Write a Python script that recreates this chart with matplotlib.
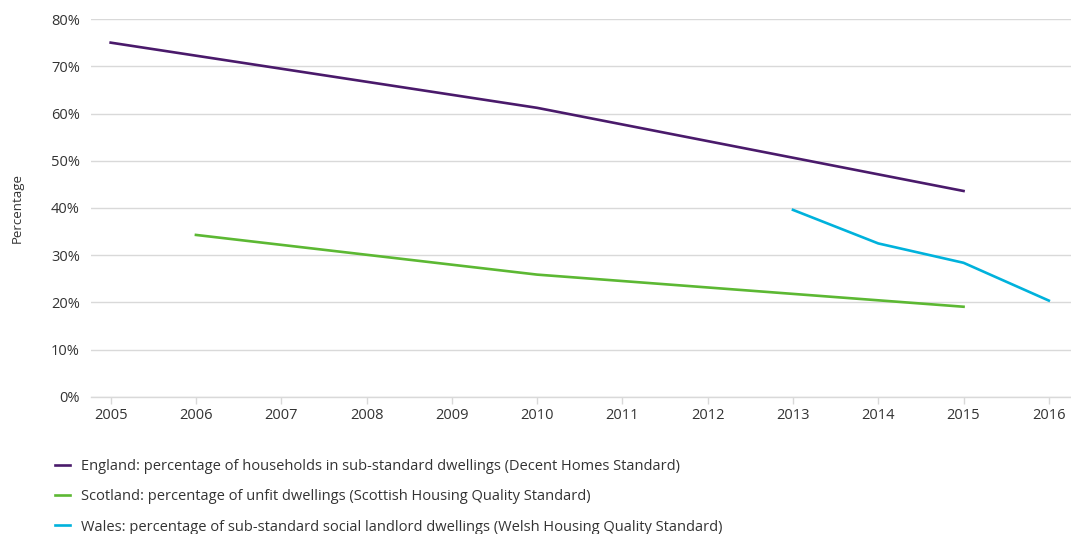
import matplotlib
matplotlib.use("Agg")
import matplotlib.pyplot as plt
from matplotlib.ticker import FuncFormatter

plt.rcParams['font.family'] = ['Open Sans', 'DejaVu Sans']

# values (percent)
england_years = [2005, 2010, 2015]
england_vals = [75.0, 61.2, 43.6]

scotland_years = [2006, 2010, 2015]
scotland_vals = [34.3, 25.9, 19.1]

wales_years = [2013, 2014, 2015, 2016]
wales_vals = [39.6, 32.5, 28.4, 20.4]

labels = [
    "England: percentage of households in sub-standard dwellings (Decent Homes Standard)",
    "Scotland: percentage of unfit dwellings (Scottish Housing Quality Standard)",
    "Wales: percentage of sub-standard social landlord dwellings (Welsh Housing Quality Standard)",
]
colors = ["#4a1a6b", "#5cb833", "#00b2dc"]
text_col = "#333333"
grid_col = "#d9d9d9"

fig = plt.figure(figsize=(10.71, 5.34), dpi=100)
ax = fig.add_axes([0.085, 0.2566, 0.915, 0.7078])

ax.plot(england_years, england_vals, color=colors[0], lw=1.9, label=labels[0])
ax.plot(scotland_years, scotland_vals, color=colors[1], lw=1.9, label=labels[1])
ax.plot(wales_years, wales_vals, color=colors[2], lw=1.9, label=labels[2])

ax.set_xlim(2004.77, 2016.26)
ax.set_ylim(0, 80)
ax.set_xticks(range(2005, 2017))
ax.set_yticks(range(0, 81, 10))
ax.yaxis.set_major_formatter(FuncFormatter(lambda v, p: f"{int(v)}%"))

ax.grid(axis='y', color=grid_col, lw=1)
ax.set_axisbelow(True)
for s in ['top', 'right', 'left']:
    ax.spines[s].set_visible(False)
ax.spines['bottom'].set_color(grid_col)
ax.spines['bottom'].set_linewidth(1)
ax.tick_params(axis='x', colors=grid_col, length=5, width=1, labelcolor=text_col, labelsize=10.5, pad=3)
ax.tick_params(axis='y', length=0, labelcolor=text_col, labelsize=10.5, pad=8)

fig.text(0.016, 0.61, "Percentage", rotation=90, ha='center', va='center', fontsize=9.5, color=text_col)

fig.legend(loc='upper left', bbox_to_anchor=(0.046, 0.152), frameon=False, fontsize=10.5,
           handlelength=1.05, handletextpad=0.75, labelspacing=1.06, labelcolor=text_col, borderaxespad=0)

fig.savefig("out.png", dpi=100)
